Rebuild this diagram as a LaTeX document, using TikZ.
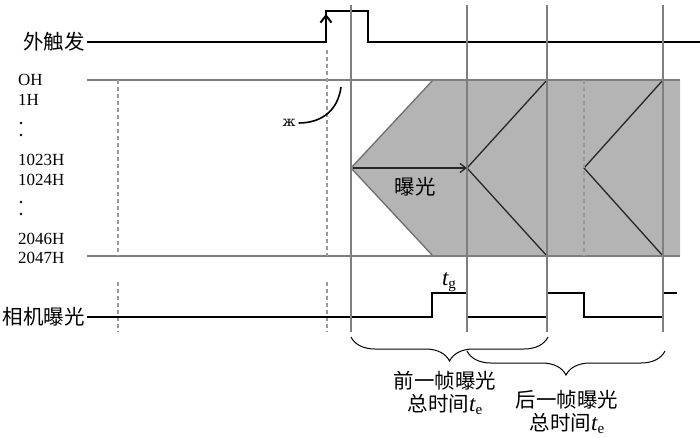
\documentclass[tikz,border=0pt]{standalone}
\usepackage{fontspec}
\setmainfont{Liberation Serif}
\newfontfamily\cjk{Noto Sans CJK SC}
\newfontfamily\symf{DejaVu Serif}
\usepackage{tikz}
\usetikzlibrary{arrows.meta,decorations.pathreplacing}
\usepackage{xcolor}
\definecolor{railgray}{HTML}{7F7F7F}
\definecolor{areagray}{HTML}{B4B4B4}
\definecolor{edgegray}{HTML}{6E6E6E}
\definecolor{ink}{HTML}{262626}
\newcommand{\tsub}[1]{{\rmfamily{\fontsize{23}{23}\selectfont\itshape t}\raisebox{-3pt}{\fontsize{15}{15}\selectfont #1}}}
\tikzset{
  sig/.style={line width=2.2pt,color=black},
  vline/.style={line width=1.8pt,color=railgray},
  hline/.style={line width=1.8pt,color=railgray},
  guide/.style={line width=1.2pt,color=railgray!80,dash pattern=on 4pt off 3pt},
  chev/.style={line width=1.3pt,color=ink},
  brc/.style={line width=1pt,color=black,decorate,
    decoration={brace,mirror,amplitude=24pt}},
  cjklab/.style={font=\cjk\fontsize{20.5}{23}\selectfont,inner sep=1pt},
  rowlab/.style={font=\fontsize{17}{19}\selectfont,anchor=west,inner sep=0pt},
}

\begin{document}
\begin{tikzpicture}[x=1pt,y=-1pt]
  \useasboundingbox (0,0) rectangle (700,437);

  % exposure area
  \fill[areagray] (433,80) -- (351,168) -- (433,256) -- (680,256) -- (680,80) -- cycle;
  \draw[line width=1.3pt,color=edgegray] (433,80) -- (351,168) -- (433,256);
  \draw[chev] (547,80) -- (467,168) -- (547,256);
  \draw[chev] (663,80) -- (584,168) -- (663,256);

  \draw[hline] (87,80) -- (680,80);
  \draw[hline] (87,256) -- (680,256);

  % dashed guides
  \draw[guide] (118,80) -- (118,256);
  \draw[guide] (118,282) -- (118,332);
  \draw[guide] (327,50) -- (327,256);
  \draw[guide] (327,282) -- (327,332);
  \draw[guide] (584,80) -- (584,256);

  % external trigger
  \draw[sig] (87,42) -- (326,42) -- (326,11) -- (368,11) -- (368,42) -- (700,42);
  \draw[line width=2pt,-{Straight Barb[length=7pt,width=11pt]}] (326,40) -- (326,14);

  % camera exposure
  \draw[sig] (87,317) -- (432,317) -- (432,293) -- (467,293) -- (467,317)
    -- (547,317) -- (547,293) -- (584,293) -- (584,317) -- (663,317)
    -- (663,293) -- (677,293);

  % frame lines
  \foreach \xx in {351,467,547,663}
    \draw[vline] (\xx,5) -- (\xx,332);

  % delay mark
  \node[font=\symf\fontsize{14}{16}\selectfont,inner sep=0pt] (dly) at (289,123) {ж};
  \draw[line width=1.6pt] (341,87) .. controls (338,110) and (322,123) .. ([xshift=3pt]dly.east);

  % exposure arrow
  \coordinate (ea) at (353,168);
  \coordinate (eb) at (467,168);
  \draw[chev,-{Straight Barb[length=6pt,width=9pt]}] (ea) -- (eb);
  \node[cjklab] (expo) at (415,187) {曝光};

  % labels
  \node[cjklab,anchor=east] (trig) at (86,42) {外触发};
  \node[cjklab,anchor=east] (cam) at (86,317) {相机曝光};
  \node[rowlab] (r0) at (18,80) {OH};
  \node[rowlab] (r1) at (18,100) {1H};
  \node[rowlab] (r2) at (18,160) {1023H};
  \node[rowlab] (r3) at (18,180) {1024H};
  \node[rowlab] (r4) at (18,239) {2046H};
  \node[rowlab] (r5) at (18,258) {2047H};
  \foreach \yy in {123,135,202,214}
    \fill (21,\yy) circle (1.4pt);

  \node[inner sep=0pt] (tg) at (449,282) {\tsub{g}};

  % frame totals
  \draw[brc] (351,337) -- (548,337);
  \draw[brc] (467,351) -- (665,351);
  \node[cjklab,align=center] (fa) at (445,393) {前一帧曝光\\总时间\tsub{e}};
  \node[cjklab,align=center] (fb) at (567,412) {后一帧曝光\\总时间\tsub{e}};
\end{tikzpicture}
\end{document}
